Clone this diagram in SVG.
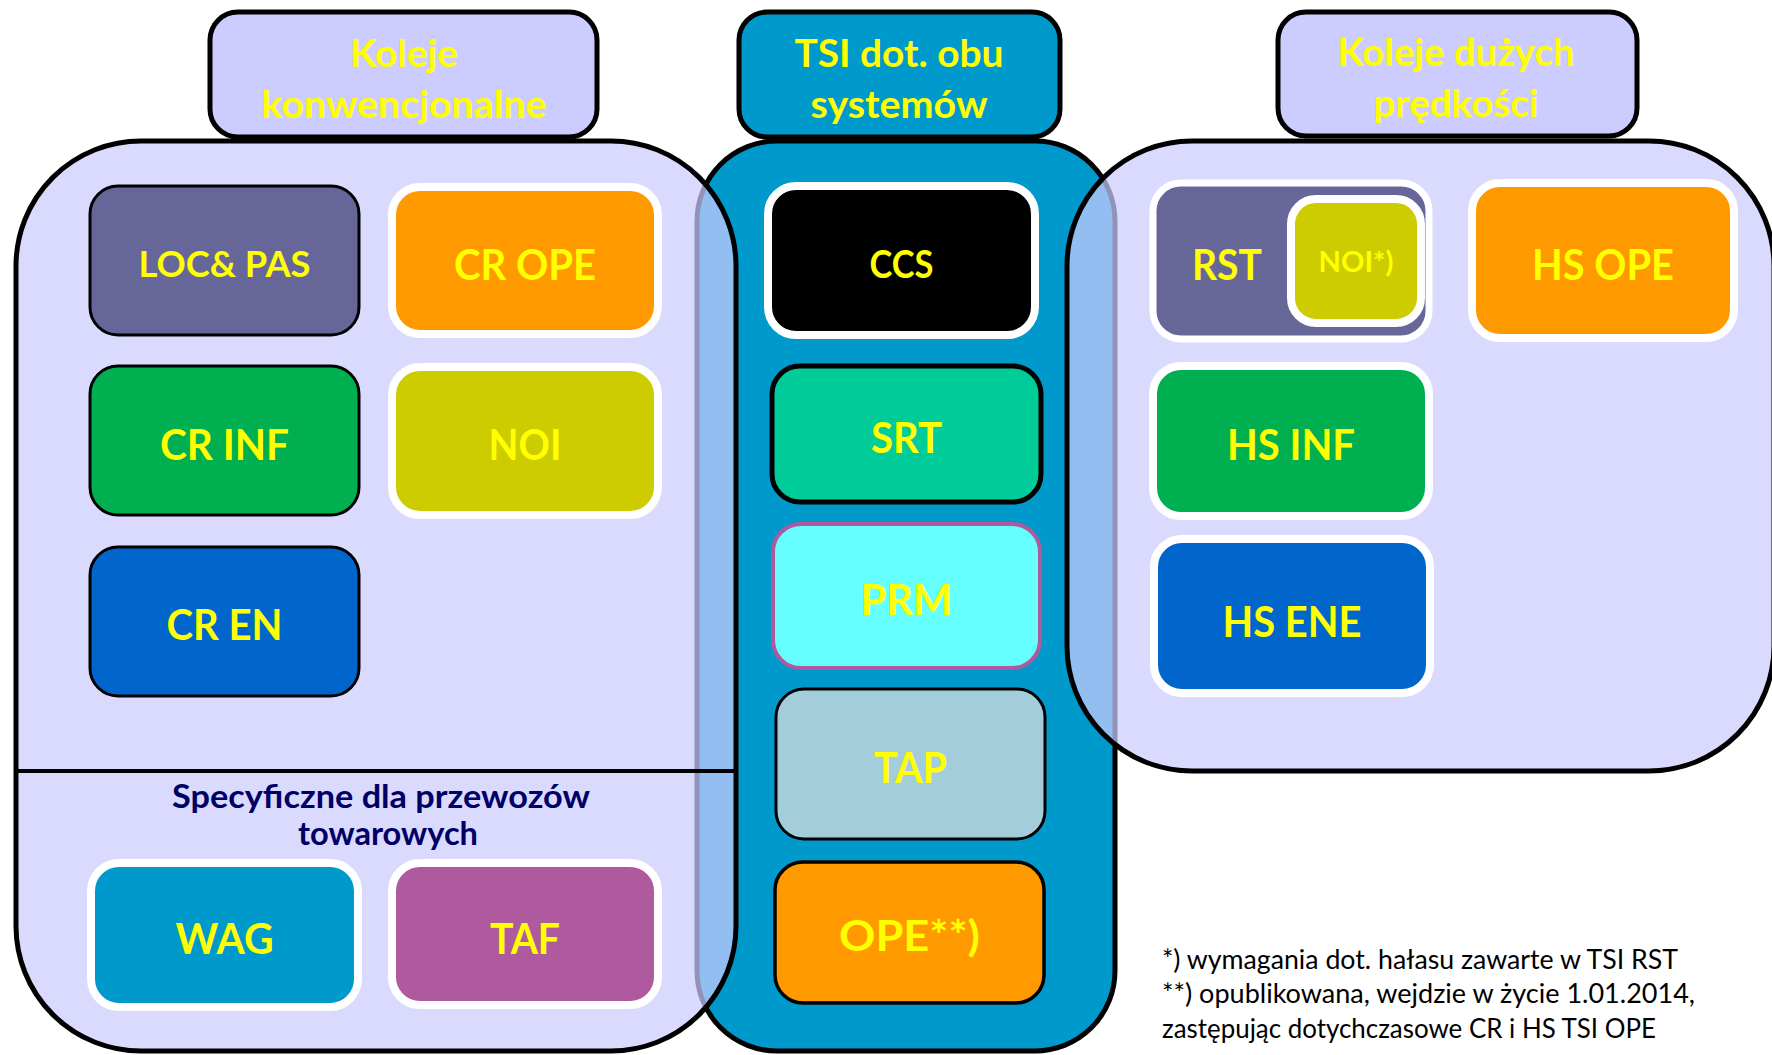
<svg xmlns="http://www.w3.org/2000/svg" width="1772" height="1055" viewBox="0 0 1772 1055">
<style>
.cont{fill:#CCCCFF;fill-opacity:0.72;stroke:#000;stroke-width:5}
.ctr{fill:#0099CC;stroke:#000;stroke-width:5}
.hdr{stroke:#000;stroke-width:5}
.wb{stroke:#fff;stroke-width:8}
.bb{stroke:#000;stroke-width:3}
.lbl{font-family:Lato,"Open Sans","Liberation Sans",sans-serif;font-weight:700;fill:#FFFF00;text-anchor:middle;font-size:42px}
.htx{font-family:Lato,"Open Sans","Liberation Sans",sans-serif;font-weight:700;fill:#FFFF00;text-anchor:middle;font-size:38px}
.sub{font-family:Lato,"Open Sans","Liberation Sans",sans-serif;font-weight:700;fill:#000066;text-anchor:middle;font-size:33px}
.note{font-family:Lato,"Open Sans","Liberation Sans",sans-serif;font-weight:400;fill:#000;font-size:27px}
</style>
<rect width="1772" height="1055" fill="#fff"/>

<g id="tsi-both-container">
<rect class="ctr" x="697" y="141" width="418" height="910" rx="80"/>
</g>
<g id="conventional-container">
<rect class="cont" x="16" y="141" width="720" height="910" rx="125"/>
<line x1="16" y1="771" x2="736" y2="771" stroke="#000" stroke-width="4"/>
<text class="sub" x="381" y="808" textLength="418" lengthAdjust="spacingAndGlyphs">Specyficzne dla przewozów</text>
<text class="sub" x="388" y="845" textLength="180" lengthAdjust="spacingAndGlyphs">towarowych</text>
</g>
<g id="highspeed-container">
<rect class="cont" x="1067" y="141" width="707" height="630" rx="125"/>
</g>

<g id="hdr-conventional">
<rect class="hdr" fill="#CCCCFF" x="210" y="12" width="387" height="125" rx="28"/>
<text class="htx" x="404" y="67" textLength="108" lengthAdjust="spacingAndGlyphs">Koleje</text>
<text class="htx" x="404" y="118" textLength="285" lengthAdjust="spacingAndGlyphs">konwencjonalne</text>
</g>
<g id="hdr-both">
<rect class="hdr" fill="#0099CC" x="739" y="12" width="321" height="125" rx="28"/>
<text class="htx" x="899" y="67" textLength="209" lengthAdjust="spacingAndGlyphs">TSI dot. obu</text>
<text class="htx" x="899" y="118" textLength="177" lengthAdjust="spacingAndGlyphs">systemów</text>
</g>
<g id="hdr-highspeed">
<rect class="hdr" fill="#CCCCFF" x="1278" y="12" width="359" height="124" rx="28"/>
<text class="htx" x="1456" y="66" textLength="237" lengthAdjust="spacingAndGlyphs">Koleje dużych</text>
<text class="htx" x="1456" y="117" textLength="165" lengthAdjust="spacingAndGlyphs">prędkości</text>
</g>

<g id="loc-pas"><rect class="bb" fill="#666699" x="90" y="186" width="269" height="149" rx="28"/>
<text class="lbl" style="font-size:37px" x="224.5" y="277" textLength="172" lengthAdjust="spacingAndGlyphs">LOC&amp; PAS</text></g>
<g id="cr-ope"><rect class="wb" fill="#FF9900" x="392" y="187" width="266" height="147" rx="28"/>
<text class="lbl" x="525" y="280" textLength="142" lengthAdjust="spacingAndGlyphs">CR OPE</text></g>
<g id="cr-inf"><rect class="bb" fill="#00B050" x="90" y="366" width="269" height="149" rx="28"/>
<text class="lbl" x="224.5" y="460" textLength="129" lengthAdjust="spacingAndGlyphs">CR INF</text></g>
<g id="noi"><rect class="wb" fill="#CCCC00" x="392" y="367" width="266" height="148" rx="28"/>
<text class="lbl" x="525" y="460" textLength="73" lengthAdjust="spacingAndGlyphs">NOI</text></g>
<g id="cr-en"><rect class="bb" fill="#0066CC" x="90" y="547" width="269" height="149" rx="28"/>
<text class="lbl" x="224.5" y="640" textLength="116" lengthAdjust="spacingAndGlyphs">CR EN</text></g>
<g id="wag"><rect class="wb" fill="#0099CC" x="91" y="863" width="267" height="144" rx="28"/>
<text class="lbl" x="224.5" y="954" textLength="98" lengthAdjust="spacingAndGlyphs">WAG</text></g>
<g id="taf"><rect class="wb" fill="#AF5A9E" x="392" y="863" width="266" height="142" rx="28"/>
<text class="lbl" x="525" y="954" textLength="70" lengthAdjust="spacingAndGlyphs">TAF</text></g>

<g id="ccs"><rect class="wb" fill="#000000" x="768" y="186" width="267" height="149" rx="28"/>
<text class="lbl" style="font-size:38px" x="901.5" y="278" textLength="64" lengthAdjust="spacingAndGlyphs">CCS</text></g>
<g id="srt"><rect fill="#00CC99" stroke="#000" stroke-width="5" x="772" y="366" width="269" height="136" rx="28"/>
<text class="lbl" x="906.5" y="453" textLength="71" lengthAdjust="spacingAndGlyphs">SRT</text></g>
<g id="prm"><rect fill="#66FFFF" stroke="#AF5A9E" stroke-width="4" x="773" y="524" width="267" height="144" rx="28"/>
<text class="lbl" x="906.5" y="615" textLength="92" lengthAdjust="spacingAndGlyphs">PRM</text></g>
<g id="tap"><rect fill="#A3CDDB" stroke="#000" stroke-width="3" x="776" y="689" width="269" height="150" rx="28"/>
<text class="lbl" x="910.5" y="783" textLength="73" lengthAdjust="spacingAndGlyphs">TAP</text></g>
<g id="ope"><rect fill="#FF9900" stroke="#000" stroke-width="3.5" x="775" y="862" width="269" height="141" rx="28"/>
<text class="lbl" x="909.5" y="951" textLength="141" lengthAdjust="spacingAndGlyphs">OPE**)</text></g>

<g id="rst"><rect class="wb" style="stroke-width:7" fill="#666699" x="1153" y="183" width="276" height="156" rx="28"/>
<text class="lbl" x="1227" y="280" textLength="70" lengthAdjust="spacingAndGlyphs">RST</text>
<g id="noi-rst"><rect class="wb" fill="#CCCC00" x="1291" y="199" width="130" height="124" rx="25"/>
<text class="lbl" style="font-size:29px" x="1356" y="272" textLength="75" lengthAdjust="spacingAndGlyphs">NOI*)</text></g></g>
<g id="hs-ope"><rect class="wb" fill="#FF9900" x="1472" y="183" width="262" height="155" rx="28"/>
<text class="lbl" x="1603" y="280" textLength="142" lengthAdjust="spacingAndGlyphs">HS OPE</text></g>
<g id="hs-inf"><rect class="wb" fill="#00B050" x="1153" y="366" width="276" height="150" rx="28"/>
<text class="lbl" x="1291" y="460" textLength="128" lengthAdjust="spacingAndGlyphs">HS INF</text></g>
<g id="hs-ene"><rect class="wb" fill="#0066CC" x="1154" y="539" width="276" height="154" rx="28"/>
<text class="lbl" x="1292" y="637" textLength="139" lengthAdjust="spacingAndGlyphs">HS ENE</text></g>

<g id="connectors"/>

<g id="footnotes">
<text class="note" x="1162" y="969" textLength="516" lengthAdjust="spacingAndGlyphs">*) wymagania dot. hałasu zawarte w TSI RST</text>
<text class="note" x="1162" y="1003" textLength="533" lengthAdjust="spacingAndGlyphs">**) opublikowana, wejdzie w życie 1.01.2014,</text>
<text class="note" x="1162" y="1038" textLength="494" lengthAdjust="spacingAndGlyphs">zastępując dotychczasowe CR i HS TSI OPE</text>
</g>
</svg>
